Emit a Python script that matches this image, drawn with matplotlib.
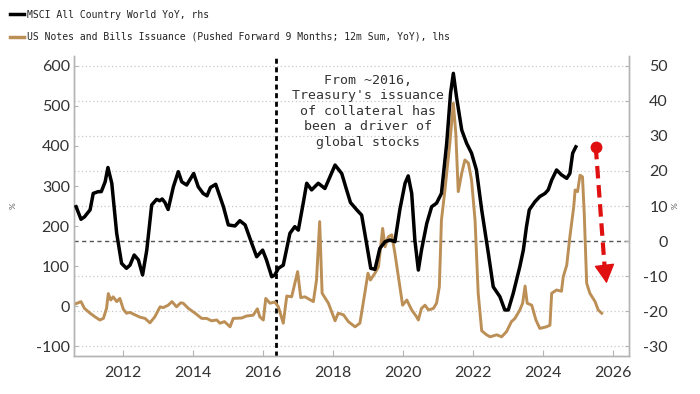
"""MSCI ACWI YoY against US notes and bills issuance (pushed forward 9 months)."""
import matplotlib
matplotlib.use("Agg")
import matplotlib.pyplot as plt
import matplotlib.transforms as mtransforms
from matplotlib.lines import Line2D

# MSCI All Country World YoY (%), right axis
msci_dates = [
    2010.66, 2010.80, 2010.90, 2011.06, 2011.15, 2011.29, 2011.38, 2011.49,
    2011.57, 2011.68, 2011.82, 2011.96, 2012.10, 2012.20, 2012.32, 2012.44,
    2012.56, 2012.68, 2012.82, 2012.96, 2013.05, 2013.12, 2013.20, 2013.29,
    2013.44, 2013.58, 2013.68, 2013.82, 2014.02, 2014.15, 2014.29, 2014.40,
    2014.50, 2014.65, 2014.87, 2015.01, 2015.20, 2015.34, 2015.49, 2015.68,
    2015.82, 2015.99, 2016.10, 2016.25, 2016.34, 2016.44, 2016.58, 2016.77,
    2016.91, 2017.01, 2017.15, 2017.25, 2017.39, 2017.58, 2017.77, 2018.06,
    2018.25, 2018.39, 2018.50, 2018.68, 2018.82, 2018.96, 2019.08, 2019.20,
    2019.34, 2019.49, 2019.63, 2019.77, 2019.91, 2020.06, 2020.15, 2020.25,
    2020.34, 2020.44, 2020.53, 2020.68, 2020.82, 2020.96, 2021.10, 2021.25,
    2021.36, 2021.44, 2021.53, 2021.68, 2021.82, 2021.96, 2022.10, 2022.25,
    2022.44, 2022.58, 2022.77, 2022.91, 2023.01, 2023.15, 2023.34, 2023.44,
    2023.53, 2023.61, 2023.77, 2023.91, 2024.06, 2024.15, 2024.25, 2024.39,
    2024.53, 2024.68, 2024.77, 2024.85, 2024.94,
]
msci_yoy = [
    9.8, 6.2, 6.9, 8.9, 13.6, 14.1, 14.1, 16.9,
    21.0, 16.5, 2.2, -6.4, -7.8, -6.9, -4.0, -5.4,
    -9.7, -2.6, 10.3, 11.9, 11.5, 12.0, 11.0, 9.0,
    15.5, 19.8, 16.9, 16.0, 19.3, 15.5, 13.6, 12.9,
    15.3, 16.2, 9.8, 4.6, 4.3, 5.8, 4.6, -0.7,
    -4.5, -2.6, -5.4, -10.2, -9.7, -7.8, -6.9, 2.2,
    4.1, 3.1, 10.8, 16.5, 14.6, 16.5, 15.0, 21.7,
    19.3, 14.6, 11.0, 8.9, 7.4, -0.7, -7.8, -8.1,
    -2.1, -0.2, 0.3, -0.2, 8.9, 16.5, 18.6, 13.6,
    0.3, -8.3, -2.6, 5.0, 9.8, 10.8, 13.6, 27.9,
    42.2, 47.9, 41.2, 31.7, 27.9, 25.1, 20.3, 8.9,
    -3.5, -13.1, -15.9, -19.7, -19.7, -15.0, -7.3, -2.6,
    4.1, 8.9, 11.2, 12.7, 13.6, 14.6, 17.4, 20.3,
    18.9, 17.9, 19.3, 25.1, 26.9,
]

# US notes and bills issuance, 12m sum YoY (%), left axis
issuance_dates = [
    2010.66, 2010.80, 2010.90, 2011.06, 2011.20, 2011.34, 2011.44, 2011.53,
    2011.58, 2011.65, 2011.72, 2011.82, 2011.91, 2012.01, 2012.10, 2012.20,
    2012.34, 2012.49, 2012.63, 2012.77, 2012.91, 2013.06, 2013.15, 2013.29,
    2013.40, 2013.53, 2013.65, 2013.72, 2013.87, 2014.06, 2014.25, 2014.39,
    2014.53, 2014.68, 2014.77, 2014.90, 2015.06, 2015.15, 2015.39, 2015.53,
    2015.72, 2015.84, 2015.91, 2016.01, 2016.08, 2016.20, 2016.34, 2016.44,
    2016.58, 2016.68, 2016.82, 2016.99, 2017.08, 2017.20, 2017.44, 2017.53,
    2017.62, 2017.69, 2017.87, 2018.06, 2018.15, 2018.30, 2018.44, 2018.63,
    2018.77, 2018.91, 2019.00, 2019.07, 2019.20, 2019.30, 2019.42, 2019.49,
    2019.58, 2019.68, 2019.77, 2019.87, 2019.99, 2020.11, 2020.25, 2020.39,
    2020.44, 2020.53, 2020.63, 2020.73, 2020.87, 2020.96, 2021.04, 2021.10,
    2021.20, 2021.34, 2021.44, 2021.51, 2021.58, 2021.68, 2021.77, 2021.87,
    2021.96, 2022.06, 2022.15, 2022.25, 2022.39, 2022.49, 2022.68, 2022.82,
    2022.96, 2023.10, 2023.20, 2023.34, 2023.42, 2023.49, 2023.55, 2023.68,
    2023.80, 2023.91, 2024.10, 2024.20, 2024.25, 2024.39, 2024.53, 2024.58,
    2024.68, 2024.77, 2024.88, 2024.92, 2024.99, 2025.06, 2025.13, 2025.18,
    2025.25, 2025.34, 2025.49, 2025.58, 2025.68,
]
issuance_yoy = [
    6, 11, -6, -18, -27, -35, -31, -6,
    31, 15, 23, 11, 19, -8, -18, -16,
    -22, -28, -31, -42, -27, -2, -4, 2,
    11, -2, 8, 7, -6, -18, -31, -31,
    -37, -35, -43, -39, -52, -31, -30, -25,
    -23, -7, -27, -35, 19, 7, 10, -2,
    -43, 25, 23, 86, 21, 23, 11, 65,
    211, 32, 7, -37, -18, -22, -39, -52,
    -43, 32, 82, 65, 82, 98, 194, 148,
    173, 178, 132, 73, 2, 15, -10, -27,
    -35, -6, 2, -10, -6, 7, 48, 215,
    290, 407, 507, 432, 286, 332, 365, 357,
    315, 215, 32, -62, -72, -77, -72, -77,
    -64, -39, -31, -10, 7, 50, 7, 2,
    -35, -56, -52, -48, 32, 40, 37, 73,
    102, 173, 248, 290, 286, 327, 323, 232,
    57, 32, 11, -10, -18,
]

left_ticks = [-100, 0, 100, 200, 300, 400, 500, 600]
right_ticks = [-30, -20, -10, 0, 10, 20, 30, 40, 50]
year_ticks = [2012, 2014, 2016, 2018, 2020, 2022, 2024, 2026]

marker_year = 2016.37
arrow_start = (2025.51, 26.9)
arrow_base = (2025.76, -7.1)
arrow_tip = (2025.82, -12.1)

note = ("From ~2016,\nTreasury's issuance\nof collateral has\n"
        "been a driver of\nglobal stocks")
msci_label = "MSCI All Country World YoY, rhs"
issuance_label = ("US Notes and Bills Issuance (Pushed Forward 9 Months; "
                  "12m Sum, YoY), lhs")

TAN = "#bb8f56"
RED = "#e01010"
GRID = "#c8c8c8"
SPINE = "#b4b4b4"
TEXT = "#333333"
MONO = "DejaVu Sans Mono"

plt.rcParams["font.family"] = ["Lato", "DejaVu Sans"]
plt.rcParams["axes.unicode_minus"] = False

fig = plt.figure(figsize=(7, 3.94), dpi=100)
ax = fig.add_axes([0.1057, 0.0964, 0.7929, 0.7615])
ax2 = ax.twinx()

ax.set_xlim(2010.6, 2026.46)
ax.set_ylim(-125, 625)
ax2.set_ylim(-32.857, 52.857)

# gridlines follow the right axis but sit behind both series
grid_tf = mtransforms.blended_transform_factory(ax.transAxes, ax2.transData)
ax.hlines([t for t in right_ticks if t != 0], 0, 1, transform=grid_tf,
          colors=GRID, linestyles=(0, (1, 2)), linewidth=0.9, zorder=0)
ax.hlines([0], 0, 1, transform=grid_tf, colors="#555555",
          linestyles=(0, (3, 2.5)), linewidth=1.0, zorder=0.5)

ax.plot(issuance_dates, issuance_yoy, color=TAN, lw=2.1, zorder=2)
ax2.plot(msci_dates, msci_yoy, color="black", lw=2.5, zorder=3)

ax.axvline(marker_year, color="black", lw=2.0, ls=(0, (1.8, 1.3)), zorder=1)

# red arrow: dashed shaft, dot at the start, solid head
ax2.plot([arrow_start[0], arrow_base[0]], [arrow_start[1], arrow_base[1]],
         color=RED, lw=3, ls=(0, (3, 1.6)), zorder=4)
ax2.plot([arrow_start[0]], [arrow_start[1]], "o", ms=7.5, color=RED, zorder=4)
ax2.annotate("", xy=arrow_tip, xytext=arrow_base,
             arrowprops=dict(arrowstyle="-|>,head_length=1.2,head_width=0.65",
                             color=RED, lw=1, shrinkA=0, shrinkB=0),
             zorder=4)

ax.text(0.53, 0.815, note, transform=ax.transAxes, ha="center", va="center",
        family=MONO, fontsize=9.5, linespacing=1.25, color=TEXT, zorder=5)

ax.set_xticks(year_ticks)
ax.set_yticks(left_ticks)
ax2.set_yticks(right_ticks)

for a in (ax, ax2):
    a.spines["top"].set_visible(False)
    for side in ("left", "right", "bottom"):
        a.spines[side].set_color(SPINE)
        a.spines[side].set_linewidth(1.0)

ax.tick_params(axis="x", direction="in", length=4, color=SPINE, pad=7,
               labelsize=11.5, labelcolor=TEXT)
ax.tick_params(axis="y", direction="in", length=3, color=SPINE, pad=3,
               labelsize=11.5, labelcolor=TEXT)
ax2.tick_params(axis="y", direction="in", length=3, color=SPINE, pad=28,
                labelsize=11.5, labelcolor=TEXT)
for lbl in ax2.get_yticklabels():
    lbl.set_horizontalalignment("right")

ax.set_ylabel("%", fontsize=6, color="#555555")
ax.yaxis.set_label_coords(-0.103, 0.5)
ax2.set_ylabel("%", fontsize=6, color="#555555", rotation=90)
ax2.yaxis.set_label_coords(1.077, 0.5)

handles = [Line2D([], [], color="black", lw=2.5),
           Line2D([], [], color=TAN, lw=2.5)]
fig.legend(handles, [msci_label, issuance_label], loc="upper left",
           bbox_to_anchor=(0.012, 0.98), frameon=False,
           prop={"family": MONO, "size": 7.0}, handlelength=1.4,
           handletextpad=0.35, labelspacing=1.25, borderaxespad=0,
           borderpad=0.2, labelcolor="#222222")

fig.savefig("out.png", dpi=100)
